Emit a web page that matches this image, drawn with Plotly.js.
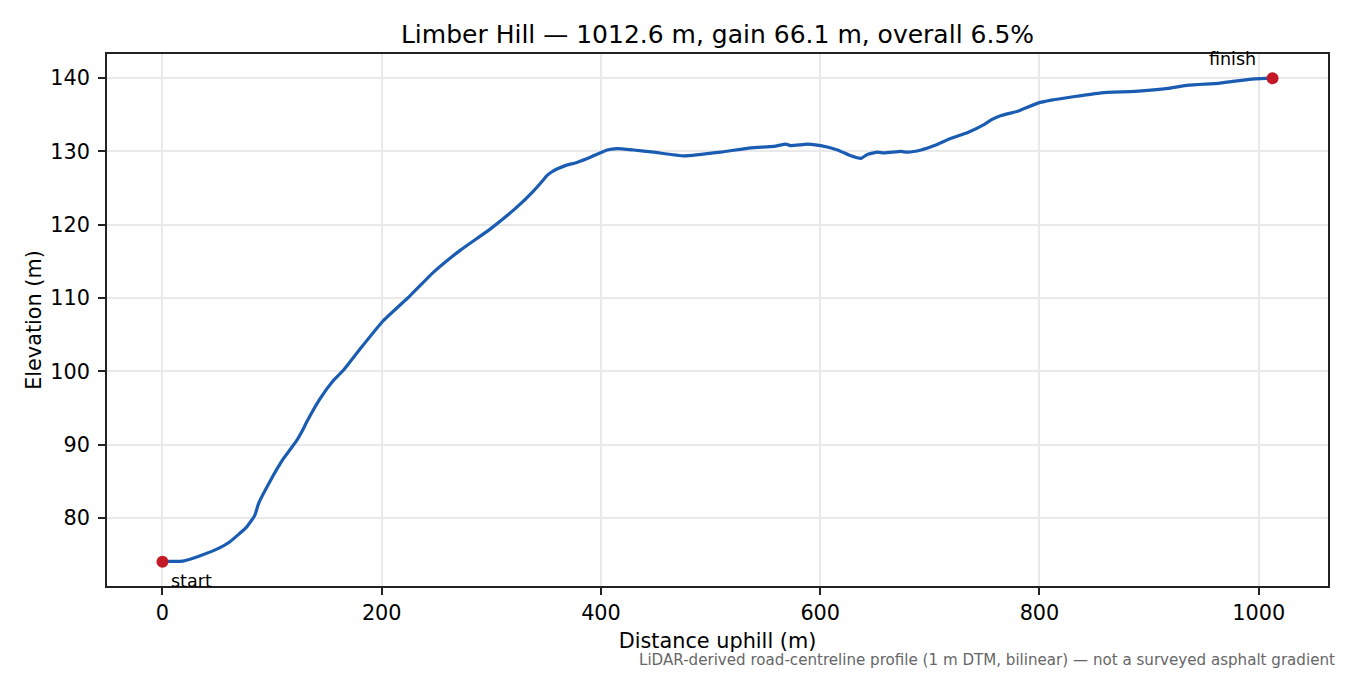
<!DOCTYPE html>
<html>
<head>
<meta charset="utf-8">
<script src="https://cdn.plot.ly/plotly-3.0.1.min.js"></script>
<style>
  html, body { margin: 0; padding: 0; background: #fff; }
  #plot { width: 1350px; height: 675px; }
</style>
</head>
<body>
<div id="plot"></div>
<script>
// profile
const distance = [0, 6.4, 18.6, 33.8, 52.1, 61.2, 76.5, 84.1, 87.8, 97.8, 110, 122.2, 128.3, 131.3,
  143.5, 155.7, 164.8, 180, 201.4, 225.8, 247.1, 271.5, 298.9, 323.3, 338.4, 345, 350.7, 355,
  359.8, 368, 378, 390.3, 405.6, 414.7, 429.9, 448.2, 475.6, 509.1, 536.6, 557.9, 568.6, 573,
  588.4, 600.5, 615.8, 628, 637.1, 643.2, 652.3, 658.4, 673.7, 679.8, 692, 704.1, 719.4, 734.6,
  749.8, 755.9, 765, 780.3, 798.6, 810.8, 832.1, 856.5, 887, 917.5, 935.7, 963.2, 978.4,
  996.7, 1012.6];
const elevation = [74.0, 74.05, 74.1, 74.8, 75.9, 76.7, 78.7, 80.3, 82.0, 84.9, 88.0, 90.5, 92.1, 93.0,
  96.2, 98.7, 100.1, 103.0, 106.9, 110.3, 113.5, 116.5, 119.4, 122.4, 124.6, 125.7, 126.7, 127.2,
  127.6, 128.1, 128.5, 129.2, 130.2, 130.4, 130.2, 129.9, 129.4, 129.9, 130.5, 130.7, 131.0, 130.8,
  131.0, 130.8, 130.2, 129.4, 129.05, 129.6, 129.9, 129.8, 130.0, 129.9, 130.2, 130.8, 131.8, 132.6,
  133.7, 134.3, 134.9, 135.5, 136.6, 137.0, 137.5, 138.0, 138.2, 138.6, 139.05, 139.3, 139.6,
  139.9, 140.0];
const endLabels = ['start', 'finish'];
const xTicks = [0, 200, 400, 600, 800, 1000];
const yTicks = [80, 90, 100, 110, 120, 130, 140];

const last = distance.length - 1;

const profile = {
  type: 'scatter',
  mode: 'lines',
  x: distance,
  y: elevation,
  line: { color: '#1a5cb2', width: 3.2, shape: 'spline', smoothing: 0.4 },
  hoverinfo: 'x+y'
};

const ends = {
  type: 'scatter',
  mode: 'markers',
  x: [distance[0], distance[last]],
  y: [elevation[0], elevation[last]],
  marker: { color: '#c41a28', size: 12 }
};

const data = [profile, ends];

const axisStyle = {
  showline: true,
  linecolor: '#222',
  linewidth: 1.7,
  mirror: true,
  ticks: 'outside',
  ticklen: 7,
  tickwidth: 1.7,
  tickcolor: '#222',
  showgrid: true,
  gridcolor: '#e9e9e9',
  gridwidth: 1.5,
  zeroline: false,
  tickfont: { size: 20.8, color: '#000' }
};

const layout = {
  width: 1350,
  height: 675,
  margin: { l: 107, r: 22, t: 54, b: 89 },
  paper_bgcolor: '#fff',
  plot_bgcolor: '#fff',
  showlegend: false,
  font: { family: 'DejaVu Sans', color: '#000' },
  title: {
    text: 'Limber Hill — 1012.6 m, gain 66.1 m, overall 6.5%',
    font: { size: 25 },
    xref: 'paper',
    x: 0.5,
    xanchor: 'center',
    y: 1 - 34 / 675,
    yanchor: 'middle'
  },
  xaxis: Object.assign({}, axisStyle, {
    range: [-50.6, 1063.2],
    tickvals: xTicks,
    title: { text: 'Distance uphill (m)', font: { size: 20.8 }, standoff: 10 }
  }),
  yaxis: Object.assign({}, axisStyle, {
    range: [70.7, 143.3],
    tickvals: yTicks,
    ticklabelstandoff: 4,
    title: { text: 'Elevation (m)', font: { size: 20.8 }, standoff: 3 }
  }),
  annotations: [
    {
      x: distance[0], y: elevation[0], xref: 'x', yref: 'y',
      text: endLabels[0], showarrow: false,
      xanchor: 'left', yanchor: 'middle', xshift: 7, yshift: -19,
      font: { size: 17.5, color: '#000' }
    },
    {
      x: distance[last], y: elevation[last], xref: 'x', yref: 'y',
      text: endLabels[1], showarrow: false,
      xanchor: 'right', yanchor: 'middle', xshift: -15, yshift: 19,
      font: { size: 17.5, color: '#000' }
    },
    {
      x: 1337, y: 660, xref: 'paper', yref: 'paper',
      text: 'LiDAR-derived road-centreline profile (1 m DTM, bilinear) — not a surveyed asphalt gradient',
      showarrow: false, xanchor: 'right', yanchor: 'middle',
      font: { size: 15.1, color: '#666' }
    }
  ]
};

// footnote sits in paper pixels, convert to paper fraction
const pw = layout.width - layout.margin.l - layout.margin.r;
const ph = layout.height - layout.margin.t - layout.margin.b;
const foot = layout.annotations[2];
foot.x = (foot.x - layout.margin.l) / pw;
foot.y = (layout.height - layout.margin.b - foot.y) / ph;

const options = { displayModeBar: false, responsive: false };

Plotly.newPlot(document.getElementById('plot'), data, layout, options);
</script>
</body>
</html>
